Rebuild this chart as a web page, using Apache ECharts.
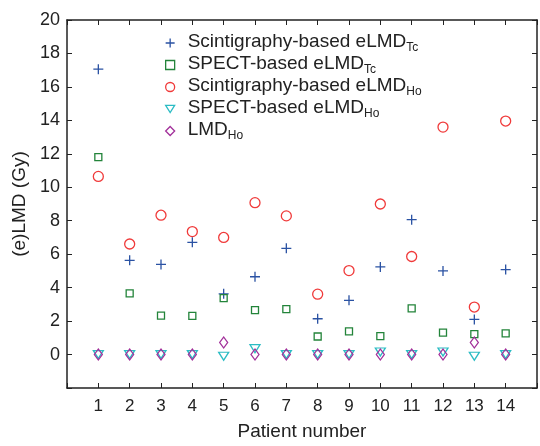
<!DOCTYPE html>
<html>
<head>
<meta charset="utf-8">
<script src="https://cdn.jsdelivr.net/npm/echarts@6/dist/echarts.min.js"></script>
<style>
html,body{margin:0;padding:0;background:#fff;}
#chart{width:540px;height:446px;}
</style>
</head>
<body>
<div id="chart"></div>
<script>
var patients = [1,2,3,4,5,6,7,8,9,10,11,12,13,14];
var scintTc = [17.06,5.63,5.39,6.71,3.63,4.65,6.35,2.14,3.24,5.24,8.06,5.0,2.10,5.08];
var spectTc = [11.8,3.66,2.33,2.31,3.37,2.65,2.71,1.08,1.39,1.10,2.76,1.31,1.22,1.27];
var scintHo = [10.65,6.61,8.33,7.35,7.0,9.08,8.29,3.61,5.02,9.0,5.86,13.6,2.84,13.96];
var spectHo = [0,0,0,0,-0.1,0.35,0,0,0,0.15,0,0.15,-0.1,0];
var lmdHo = [0,0,0,0,0.72,0,0,0,0,0,0,0,0.72,0];
var yTicks = [0,2,4,6,8,10,12,14,16,18,20];

var seriesNames = ['Scintigraphy-based eLMD_Tc','SPECT-based eLMD_Tc','Scintigraphy-based eLMD_Ho','SPECT-based eLMD_Ho','LMD_Ho'];
var seriesColors = ['#2a52a3','#23843a','#f03a3a','#2bbcc4','#a2309a'];
var PLUS = 'path://M0,5L10,5M5,0L5,10';
var TRI_DOWN = 'path://M0,0L10,0L5,8Z';

function pairs(arr){ return patients.map(function(p,i){ return [p, arr[i]]; }); }

var FONT = 'Liberation Sans, Arial, sans-serif';
var chart = echarts.init(document.getElementById('chart'), null, {renderer:'canvas'});

function hollow(color){ return {color: 'rgba(0,0,0,0)', borderColor: color, borderWidth: 1.3, opacity: 1}; }

function mk(i, data, symbol, size){
  return {
    name: seriesNames[i], type: 'scatter', data: pairs(data),
    symbol: symbol, symbolSize: size,
    itemStyle: hollow(seriesColors[i]),
    emphasis: {disabled: true},
    xAxisIndex: 0, yAxisIndex: 0, z: 3
  };
}

var legendIcons = [PLUS, 'rect', 'circle', TRI_DOWN, 'diamond'];

var axisLineStyle = {color:'#222', width:1.5};

var option = {
  animation: false,
  backgroundColor: '#fff',
  grid: {left: 67, top: 20, width: 475, height: 373, containLabel: false},
  legend: {
    orient: 'vertical', left: 160, top: 23, itemGap: -4,
    itemWidth: 9, itemHeight: 9,
    data: seriesNames.map(function(n,i){
      return {name: n, icon: legendIcons[i], itemStyle: hollow(seriesColors[i])};
    }),
    selectedMode: false,
    formatter: function(n){
      var parts = n.split('_');
      return '{a|' + parts[0] + '}{s|' + parts[1] + '}';
    },
    textStyle: {
      fontFamily: FONT, color: '#222',
      rich: {
        a: {fontSize: 19, lineHeight: 22, fontFamily: FONT, color:'#222', padding:[0,0,0,8], verticalAlign:'top'},
        s: {fontSize: 12, lineHeight: 12, fontFamily: FONT, color:'#222', verticalAlign:'bottom', padding:[14,0,0,0]}
      }
    }
  },
  xAxis: [{
    type: 'value', min: 0, max: 15, interval: 1,
    name: 'Patient number', nameLocation: 'middle', nameGap: 34,
    nameTextStyle: {fontFamily: FONT, fontSize: 19, color: '#222'},
    axisLine: {show: true, onZero: false, lineStyle: axisLineStyle},
    axisTick: {show: true, inside: true, length: 5, lineStyle: {color:'#222', width:1}},
    axisLabel: {fontFamily: FONT, fontSize: 17, color: '#222', margin: 10,
      formatter: function(v){ return (v >= 1 && v <= 14) ? String(v) : ''; }},
    splitLine: {show: false}
  },{
    type: 'value', min: 0, max: 15, interval: 1, position: 'top',
    axisLine: {show: true, onZero: false, lineStyle: axisLineStyle},
    axisTick: {show: true, inside: true, length: 5, lineStyle: {color:'#222', width:1}},
    axisLabel: {show: false}, splitLine: {show: false}
  }],
  yAxis: [{
    type: 'value', min: -2, max: 20, interval: 2,
    name: '(e)LMD (Gy)', nameLocation: 'middle', nameGap: 38,
    nameTextStyle: {fontFamily: FONT, fontSize: 19, color: '#222'},
    axisLine: {show: true, onZero: false, lineStyle: axisLineStyle},
    axisTick: {show: true, inside: true, length: 5, lineStyle: {color:'#222', width:1}},
    axisLabel: {fontFamily: FONT, fontSize: 18, color: '#222', margin: 7,
      formatter: function(v){ return yTicks.indexOf(v) >= 0 ? String(v) : ''; }},
    splitLine: {show: false}
  },{
    type: 'value', min: -2, max: 20, interval: 2, position: 'right',
    axisLine: {show: true, onZero: false, lineStyle: axisLineStyle},
    axisTick: {show: true, inside: true, length: 5, lineStyle: {color:'#222', width:1}},
    axisLabel: {show: false}, splitLine: {show: false}
  }],
  series: [
    mk(0, scintTc, PLUS, 10),
    mk(1, spectTc, 'rect', 7),
    mk(2, scintHo, 'circle', 10),
    mk(3, spectHo, TRI_DOWN, [10,8]),
    mk(4, lmdHo, 'diamond', [8,11])
  ]
};
chart.setOption(option);
</script>
</body>
</html>
